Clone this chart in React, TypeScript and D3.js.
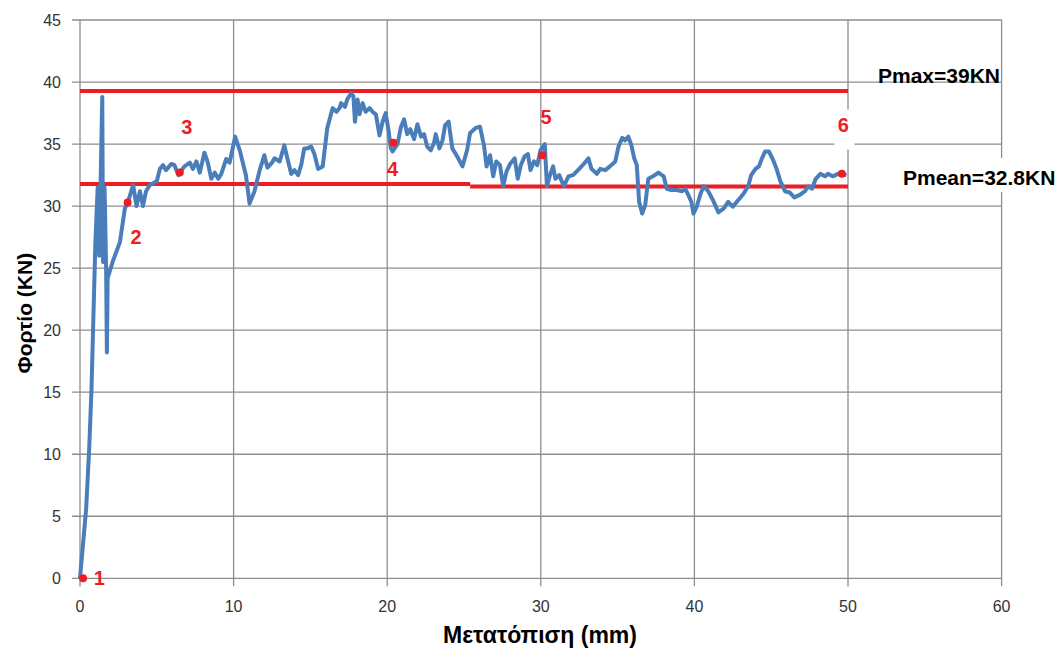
import React from "react";
import * as d3 from "d3";

// displacement (mm) / load (KN)
const disp = [
  0, 0.4, 0.6, 0.75, 0.85, 1.0, 1.15, 1.25, 1.45, 1.5, 1.6, 1.7, 1.75, 1.8, 2.15, 2.6, 2.92, 3.14, 3.46, 3.68,
  3.9, 4.1, 4.3, 4.55, 5.0, 5.2, 5.4, 5.6, 5.95, 6.15, 6.4, 6.5, 6.8, 7.15, 7.35, 7.58, 7.8, 8.1, 8.3, 8.55,
  8.77, 9.0, 9.2, 9.52, 9.74, 10.1, 10.4, 10.6, 10.8, 11.04, 11.36, 11.7, 12.0, 12.2, 12.5, 12.66, 13.0, 13.3, 13.5, 13.75,
  13.96, 14.2, 14.4, 14.6, 14.8, 15.05, 15.26, 15.5, 15.8, 16.1, 16.45, 16.7, 16.9, 17.0, 17.25, 17.4, 17.65, 17.8, 17.9, 18.07,
  18.2, 18.4, 18.6, 18.85, 19.05, 19.26, 19.5, 19.7, 19.9, 20.1, 20.24, 20.35, 20.67, 20.9, 21.1, 21.3, 21.5, 21.75, 21.97, 22.2,
  22.4, 22.6, 22.84, 23.05, 23.16, 23.4, 23.6, 23.77, 24.0, 24.24, 24.56, 24.9, 25.2, 25.4, 25.76, 26.04, 26.3, 26.47, 26.7, 26.9,
  27.1, 27.34, 27.55, 27.77, 28.0, 28.3, 28.5, 28.7, 28.94, 29.16, 29.33, 29.55, 29.77, 29.98, 30.26, 30.4, 30.6, 30.8, 30.95, 31.2,
  31.5, 31.8, 32.1, 32.5, 32.8, 33.1, 33.3, 33.65, 33.87, 34.2, 34.5, 34.85, 35.06, 35.3, 35.5, 35.7, 35.9, 36.08, 36.25, 36.4,
  36.6, 36.8, 37.0, 37.3, 37.66, 38.0, 38.2, 38.5, 38.85, 39.2, 39.4, 39.6, 39.8, 39.94, 40.15, 40.4, 40.6, 40.9, 41.2, 41.56,
  41.9, 42.2, 42.5, 42.86, 43.2, 43.5, 43.7, 43.98, 44.2, 44.4, 44.6, 44.85, 45.13, 45.35, 45.6, 45.9, 46.2, 46.5, 46.86, 47.2,
  47.4, 47.66, 47.9, 48.2, 48.5, 48.7, 49.0, 49.35, 49.57, 49.9,
];
const load = [
  0, 5.6, 10.5, 15.3, 20, 27, 31.5, 26, 38.8, 25.5, 31.5, 25, 18.2, 24.2, 25.6, 27.1, 29.8, 30.4, 31.7, 30.0,
  31.2, 30.0, 31.2, 31.7, 32.0, 33.0, 33.3, 32.9, 33.4, 33.3, 32.5, 32.7, 33.2, 33.5, 33.0, 33.6, 32.7, 34.3, 33.6, 32.2,
  32.7, 32.2, 32.6, 33.8, 33.5, 35.6, 34.5, 33.5, 32.5, 30.2, 31.2, 32.9, 34.1, 33.1, 33.5, 33.85, 33.6, 34.9, 33.85, 32.6,
  32.9, 32.5, 33.3, 34.65, 34.65, 34.8, 34.2, 33.0, 33.2, 36.3, 37.9, 37.6, 37.9, 38.3, 38.0, 38.6, 39.1, 38.85, 36.8, 38.6,
  37.4, 38.3, 37.6, 37.9, 37.6, 37.4, 35.7, 36.8, 37.5, 36.0, 34.65, 34.4, 35.0, 36.4, 37.0, 35.8, 36.2, 35.4, 36.6, 35.6,
  35.8, 34.8, 34.5, 35.1, 35.8, 34.65, 35.3, 36.5, 36.8, 34.65, 34.0, 33.2, 34.5, 35.9, 36.3, 36.4, 34.9, 33.2, 34.1, 32.4,
  33.6, 33.3, 31.6, 32.8, 33.4, 33.85, 32.2, 33.3, 34.0, 34.2, 32.9, 33.6, 33.3, 34.5, 35.0, 31.6, 32.5, 33.2, 32.2, 32.5,
  31.6, 32.4, 32.5, 33.0, 33.4, 33.85, 33.0, 32.6, 33.0, 32.9, 33.2, 33.6, 34.8, 35.5, 35.3, 35.6, 34.9, 33.85, 33.3, 30.35,
  29.4, 30.1, 32.2, 32.4, 32.7, 32.4, 31.4, 31.3, 31.3, 31.2, 31.4, 30.9, 30.35, 29.4, 29.95, 31.0, 31.6, 31.2, 30.5, 29.5,
  29.8, 30.35, 29.95, 30.5, 31.0, 31.6, 32.5, 33.0, 33.2, 33.85, 34.4, 34.4, 33.7, 33.0, 32.0, 31.2, 31.1, 30.7, 30.9, 31.2,
  31.6, 31.4, 32.2, 32.6, 32.4, 32.6, 32.4, 32.6, 32.6, 32.5,
];

// numbered points on the curve
const markLabels = ["1", "2", "3", "4", "5", "6"];
const markX = [0.2, 3.1, 6.5, 20.4, 30.1, 49.6];
const markY = [0, 30.3, 32.7, 35.1, 34.1, 32.6];
const markLabelX = [1.25, 3.65, 6.95, 20.35, 30.35, 49.7];
const markLabelY = [0, 27.5, 36.4, 33.0, 37.2, 36.5];

// Pmax / Pmean reference lines: [x0, x1, y]
const pmaxLine = [[0, 50, 39.28]];
const pmeanLine = [
  [0, 25.4, 31.78],
  [25.4, 50, 31.58],
];

const xTicks = [0, 10, 20, 30, 40, 50, 60];
const yTicks = [0, 5, 10, 15, 20, 25, 30, 35, 40, 45];

const W = 1064;
const H = 651;
const RED = "#ee1c25";
const BLUE = "#4a7ebb";
const GRID = "#8e8e8e";
const FONT = "'Liberation Sans', Arial, sans-serif";

export default function App() {
  const x = d3.scaleLinear().domain([0, 60]).range([80, 1001.6]);
  const y = d3.scaleLinear().domain([0, 45]).range([578.3, 20]);

  const pts = disp.map((d, i) => [d, load[i]] as [number, number]);
  const line = d3
    .line<[number, number]>()
    .x((d) => x(d[0]))
    .y((d) => y(d[1]));

  return (
    <svg
      width={W}
      height={H}
      style={{ position: "absolute", left: 0, top: 0, background: "#fff" }}
      fontFamily={FONT}
    >
      {/* grid */}
      {yTicks.map((t) => (
        <line key={"gy" + t} x1={x(0) - 8} x2={x(60)} y1={y(t)} y2={y(t)} stroke={GRID} strokeWidth={1.3} />
      ))}
      {xTicks.map((t) => (
        <line key={"gx" + t} x1={x(t)} x2={x(t)} y1={y(45)} y2={y(0) + 8} stroke={GRID} strokeWidth={1.3} />
      ))}

      {/* tick labels */}
      {yTicks.map((t) => (
        <text key={"ty" + t} x={x(0) - 19} y={y(t) + 5.5} textAnchor="end" fontSize={16} fill="#333">
          {t}
        </text>
      ))}
      {xTicks.map((t) => (
        <text key={"tx" + t} x={x(t)} y={y(0) + 34} textAnchor="middle" fontSize={16} fill="#333">
          {t}
        </text>
      ))}

      {/* axis titles */}
      <text
        transform={`translate(32,${(y(0) + y(45)) / 2 + 14}) rotate(-90)`}
        textAnchor="middle"
        fontSize={21}
        fontWeight="bold"
      >
        Φορτίο (KN)
      </text>
      <text x={540} y={643} textAnchor="middle" fontSize={23} fontWeight="bold">
        Μετατόπιση (mm)
      </text>

      {/* reference lines */}
      {pmaxLine.concat(pmeanLine).map((s, i) => (
        <line key={"r" + i} x1={x(s[0])} x2={x(s[1])} y1={y(s[2])} y2={y(s[2])} stroke={RED} strokeWidth={4} />
      ))}

      {/* curve */}
      <path d={line(pts) ?? ""} fill="none" stroke={BLUE} strokeWidth={4} strokeLinejoin="round" />

      {/* numbered points */}
      {markLabels.map((l, i) => (
        <circle key={"c" + l} cx={x(markX[i])} cy={y(markY[i])} r={4} fill={RED} />
      ))}
      <rect x={x(markLabelX[5]) - 9} y={y(markLabelY[5]) - 16} width={20} height={40} fill="#fff" />
      {markLabels.map((l, i) => (
        <text
          key={"l" + l}
          x={x(markLabelX[i])}
          y={y(markLabelY[i]) + 7}
          textAnchor="middle"
          fontSize={20}
          fontWeight="bold"
          fill={RED}
        >
          {l}
        </text>
      ))}

      {/* annotations */}
      <text x={878} y={83} fontSize={21} fontWeight="bold">
        Pmax=39KN
      </text>
      <rect x={900} y={158} width={164} height={34} fill="#fff" />
      <text x={903} y={185} fontSize={21} fontWeight="bold">
        Pmean=32.8KN
      </text>
    </svg>
  );
}
